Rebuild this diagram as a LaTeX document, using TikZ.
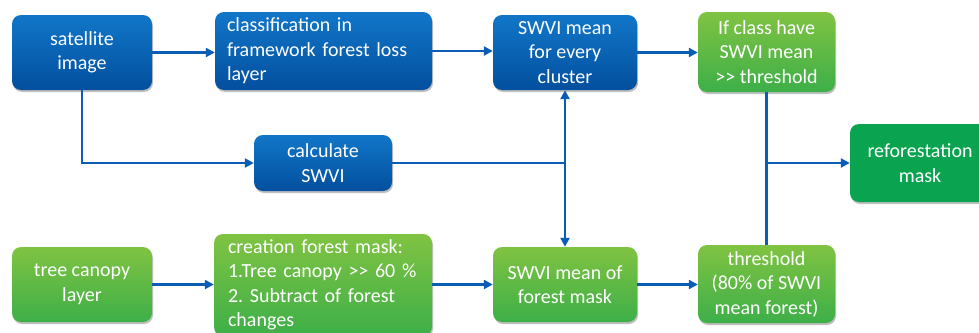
\documentclass[tikz,border=0pt]{standalone}
\usepackage{fontspec}
\setmainfont{Carlito}
\usetikzlibrary{shadows,arrows.meta}
\definecolor{bluetop}{HTML}{1176C8}
\definecolor{bluebot}{HTML}{034F9E}
\definecolor{greentop}{HTML}{80C342}
\definecolor{greenbot}{HTML}{3DAF48}
\definecolor{refgreen}{HTML}{0AA450}
\definecolor{arrowblue}{HTML}{0A5DB5}
\begin{document}
\frenchspacing
\begin{tikzpicture}[x=1pt,y=-1pt,
  box/.style={rounded corners=9pt, text=white, align=center, inner sep=0pt,
    font=\fontsize{20}{24.5}\selectfont,
    drop shadow={shadow xshift=1pt,shadow yshift=-2pt,opacity=0.25,fill=black}},
  bluebox/.style={box, top color=bluetop, bottom color=bluebot},
  greenbox/.style={box, top color=greentop, bottom color=greenbot},
  refbox/.style={box, fill=refgreen},
  conn/.style={draw=arrowblue, line width=2.8pt},
  arr/.style={conn, -{Triangle[length=9pt,width=9pt]}}]
\useasboundingbox (0,0) rectangle (979,332);
\fill[white] (0,0) rectangle (979,332);
% top row
\node[bluebox, minimum width=140pt, minimum height=75pt] (sat) at (82,52.5) {satellite\\image};
\node[bluebox, minimum width=217pt, minimum height=78pt, text width=193pt, align=left] (cls) at (323.5,51) {classification in\\framework forest loss\\layer};
\node[bluebox, minimum width=144pt, minimum height=75pt] (clu) at (565,52.5) {SWVI mean\\for every\\cluster};
\node[greenbox, minimum width=137pt, minimum height=80pt] (ifc) at (766.5,52) {If class have\\SWVI mean\\>{}> threshold};
% middle row
\node[bluebox, minimum width=138pt, minimum height=56pt] (calc) at (323,163) {calculate\\SWVI};
\node[refbox, minimum width=140pt, minimum height=78pt, text width=140pt] (ref) at (920,163) {reforestation\\mask};
% bottom row
\node[greenbox, minimum width=140pt, minimum height=75pt] (tree) at (82,284.5) {tree canopy\\layer};
\node[greenbox, minimum width=218pt, minimum height=102pt, text width=190pt, align=left] (cre) at (323,285) {creation forest mask:\\1.Tree canopy >{}> 60 \%\\2. Subtract of forest\\changes};
\node[greenbox, minimum width=144pt, minimum height=75pt] (sfm) at (565,284.5) {SWVI mean of\\forest mask};
\node[greenbox, minimum width=137pt, minimum height=78pt] (thr) at (766.5,284) {threshold\\(80\% of SWVI\\mean forest)};
% connectors
\draw[arr] (sat.east) -- (sat.east -| cls.west);
\draw[arr] (cls.east) -- (cls.east -| clu.west);
\draw[arr] (clu.east) -- (clu.east -| ifc.west);
\draw[arr] (sat.south) |- (calc.west);
\coordinate (j1) at (calc.east -| clu.south);
\draw[conn] (calc.east) -- (j1);
\draw[arr] (j1) -- (clu.south);
\draw[arr] (j1) -- (sfm.north);
\draw[arr] (tree.east) -- (tree.east -| cre.west);
\draw[arr] (cre.east |- sfm.west) -- (sfm.west);
\draw[arr] (sfm.east) -- (sfm.east -| thr.west);
\draw[conn] (thr.north) -- (ifc.south);
\coordinate (j2) at (thr.north |- ref.west);
\draw[arr] (j2) -- (ref.west);
\end{tikzpicture}
\end{document}
